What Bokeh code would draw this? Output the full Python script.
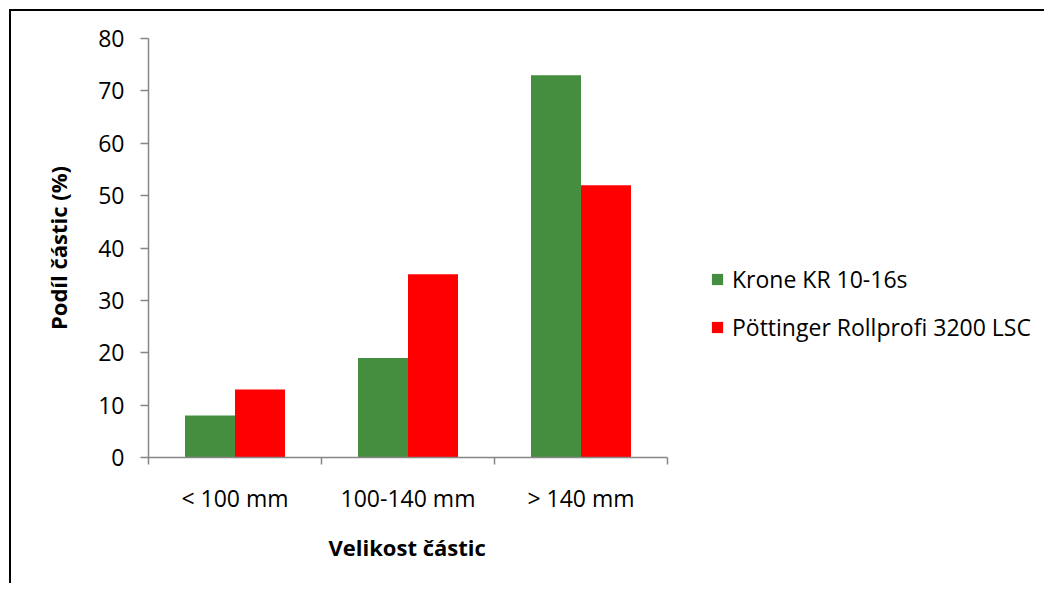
from bokeh.plotting import figure
from bokeh.models import (ColumnDataSource, FixedTicker, Range1d, Legend, LegendItem, Title)
from bokeh.embed import file_html
from bokeh.resources import INLINE

categories = ["< 100 mm", "100-140 mm", "> 140 mm"]
krone = [8, 19, 73]
pottinger = [13, 35, 52]
series_names = ["Krone KR 10-16s", "Pöttinger Rollprofi 3200 LSC"]
y_ticks = [0, 10, 20, 30, 40, 50, 60, 70, 80]
x_title = "Velikost částic"
y_title = "Podíl částic (%)"

GREEN = "#468E3F"
RED = "#FF0000"
AXIS = "#868686"
FONT = "Open Sans"

# layout geometry (pixels)
W, H = 1035, 574
LEFT, TOP, BOTTOM = 137, 27, 128
PLOT_W = 519                      # width of the category area
FRAME_W = W - LEFT
n = len(categories)
x_end = n * FRAME_W / PLOT_W      # frame extends under legend; axis bounded to categories

centers = [i + 0.5 for i in range(n)]
bw = 0.289
src = ColumnDataSource(dict(
    xk=[c - bw / 2 for c in centers],
    xp=[c + bw / 2 for c in centers],
    krone=krone, pottinger=pottinger))

p = figure(width=W, height=H, output_backend="svg", toolbar_location=None,
           x_range=Range1d(0, x_end), y_range=Range1d(0, 80),
           min_border_left=LEFT, min_border_right=0,
           min_border_top=TOP, min_border_bottom=BOTTOM)
p.styles = {"border-top": "2px solid black", "border-left": "2px solid black",
            "margin": "9px 0px 0px 9px"}
p.outline_line_color = None
p.xgrid.visible = False
p.ygrid.visible = False

rk = p.vbar(x="xk", top="krone", width=bw, source=src, fill_color=GREEN, line_color=None)
rp = p.vbar(x="xp", top="pottinger", width=bw, source=src, fill_color=RED, line_color=None)

legend = Legend(items=[LegendItem(label=series_names[0], renderers=[rk]),
                       LegendItem(label=series_names[1], renderers=[rp])],
                location=(562, 114), orientation="vertical",
                glyph_width=14, glyph_height=14, label_standoff=8,
                spacing=16, padding=0, margin=0,
                border_line_color=None, background_fill_alpha=0,
                label_text_font=FONT, label_text_font_size="23px",
                label_text_color="black", label_height=20)
p.add_layout(legend)

# x axis
xa = p.xaxis[0]
xa.bounds = (0, n)
xa.ticker = FixedTicker(ticks=centers, minor_ticks=list(range(n + 1)))
xa.major_label_overrides = {c: cat for c, cat in zip(centers, categories)}
xa.major_tick_out = 0
xa.major_tick_in = 0
xa.minor_tick_out = 7
xa.minor_tick_in = 0
xa.axis_line_color = AXIS
xa.minor_tick_line_color = AXIS
xa.axis_line_width = 1.5
xa.minor_tick_line_width = 1.5
xa.major_label_text_font = FONT
xa.major_label_text_font_size = "23px"
xa.major_label_text_color = "black"
xa.major_label_standoff = 17

# x title centred under the category area (not under the whole frame)
xt = Title(text=x_title, align="left", offset=180, standoff=26,
           text_font=FONT, text_font_style="bold", text_font_size="22px",
           text_color="black")
p.add_layout(xt, "below")

ya = p.yaxis[0]
ya.ticker = FixedTicker(ticks=y_ticks, minor_ticks=[])
ya.major_tick_out = 8
ya.major_tick_in = 0
ya.axis_line_color = AXIS
ya.major_tick_line_color = AXIS
ya.axis_line_width = 1.5
ya.major_tick_line_width = 1.5
ya.major_label_text_font = FONT
ya.major_label_text_font_size = "23px"
ya.major_label_text_color = "black"
ya.major_label_standoff = 16
ya.axis_label = y_title
ya.axis_label_text_font = FONT
ya.axis_label_text_font_style = "bold"
ya.axis_label_text_font_size = "22px"
ya.axis_label_text_color = "black"
ya.axis_label_standoff = 22

open("out.html", "w").write(file_html(p, INLINE))
